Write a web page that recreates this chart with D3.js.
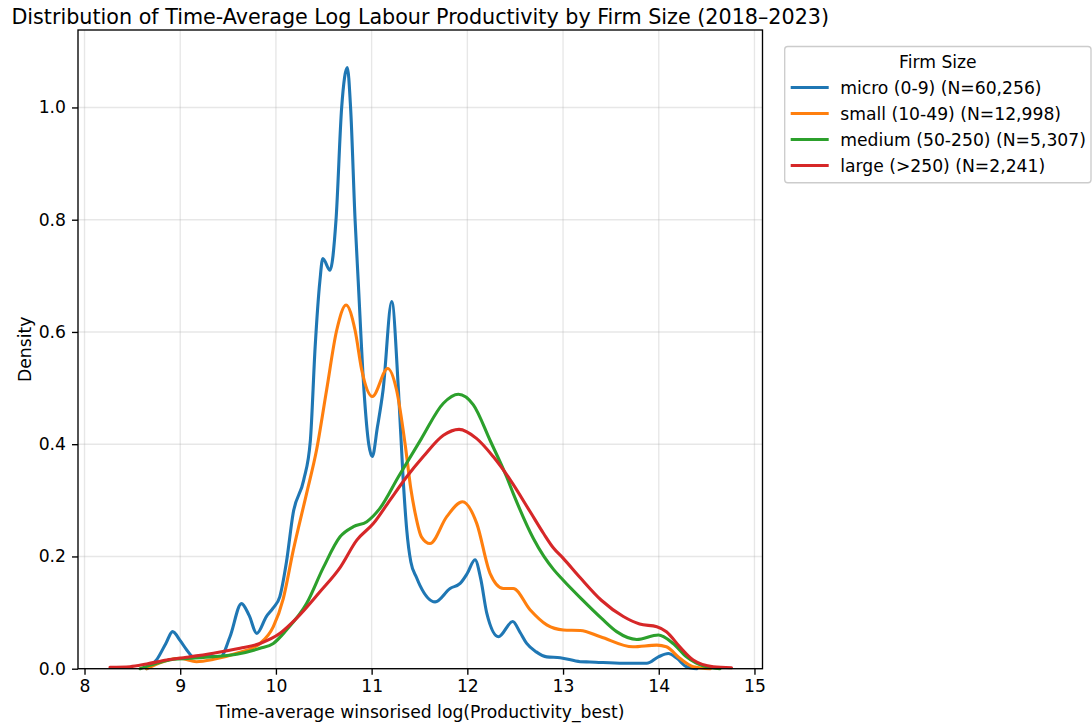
<!DOCTYPE html>
<html>
<head>
<meta charset="utf-8">
<script src="https://cdn.jsdelivr.net/npm/d3@7"></script>
<style>
  html, body { margin: 0; padding: 0; background: #ffffff; }
  svg { display: block; font-family: "DejaVu Sans", sans-serif; }
</style>
</head>
<body>
<svg id="chart" width="1092" height="724"></svg>
<script>
// Kernel density estimates of time-average log labour productivity, by firm size.
// Each series: [log productivity, density].
const micro = [
  [8.65, 0.0], [8.75, 0.015], [8.85, 0.045], [8.92, 0.066], [9.0, 0.05], [9.07, 0.033],
  [9.14, 0.021], [9.26, 0.023], [9.42, 0.021], [9.52, 0.057], [9.64, 0.116], [9.72, 0.095],
  [9.80, 0.063], [9.90, 0.093], [9.97, 0.108], [10.04, 0.128], [10.11, 0.19], [10.18, 0.277],
  [10.29, 0.336], [10.36, 0.407], [10.41, 0.574], [10.46, 0.692], [10.49, 0.731], [10.565, 0.710],
  [10.628, 0.80], [10.687, 1.0], [10.746, 1.071], [10.78, 1.0], [10.827, 0.80], [10.86, 0.69],
  [10.92, 0.496], [10.97, 0.40], [11.007, 0.378], [11.06, 0.43], [11.12, 0.497], [11.21, 0.654],
  [11.28, 0.497], [11.33, 0.336], [11.367, 0.247], [11.41, 0.19], [11.47, 0.162], [11.506, 0.148],
  [11.663, 0.119], [11.82, 0.143], [11.925, 0.152], [12.0, 0.17], [12.08, 0.194], [12.14, 0.16],
  [12.203, 0.099], [12.325, 0.057], [12.474, 0.084], [12.55, 0.065], [12.62, 0.045], [12.72, 0.03],
  [12.83, 0.021], [12.97, 0.0196], [13.18, 0.0125], [13.28, 0.012], [13.63, 0.0096], [13.875, 0.0096],
  [13.996, 0.021], [14.10, 0.027], [14.19, 0.0185], [14.29, 0.0036], [14.40, 0.0]
];
const small = [
  [8.65, 0.0], [8.82, 0.0125], [9.0, 0.0185], [9.17, 0.0125], [9.35, 0.0167], [9.59, 0.0274],
  [9.834, 0.045], [9.973, 0.075], [10.077, 0.125], [10.18, 0.21], [10.32, 0.312], [10.425, 0.39],
  [10.53, 0.497], [10.635, 0.603], [10.733, 0.648], [10.827, 0.603], [10.897, 0.532], [11.007, 0.485],
  [11.168, 0.535], [11.26, 0.497], [11.35, 0.40], [11.41, 0.32], [11.455, 0.277], [11.52, 0.235],
  [11.61, 0.223], [11.785, 0.271], [11.95, 0.2975], [12.098, 0.259], [12.237, 0.17], [12.376, 0.143],
  [12.48, 0.143], [12.655, 0.105], [12.83, 0.078], [13.003, 0.069], [13.18, 0.068], [13.39, 0.057],
  [13.73, 0.039], [13.98, 0.042], [14.08, 0.039], [14.22, 0.0185], [14.36, 0.0036], [14.54, 0.0]
];
const medium = [
  [8.58, 0.0], [8.754, 0.0096], [8.93, 0.0167], [9.10, 0.0185], [9.346, 0.0214], [9.59, 0.0257],
  [9.834, 0.0363], [9.973, 0.045], [10.11, 0.069], [10.32, 0.116], [10.495, 0.18], [10.67, 0.235],
  [10.81, 0.253], [10.95, 0.262], [11.088, 0.286], [11.28, 0.342], [11.52, 0.41], [11.75, 0.473],
  [11.906, 0.489], [12.063, 0.47], [12.237, 0.407], [12.41, 0.342], [12.48, 0.312], [12.69, 0.232],
  [12.8, 0.2], [12.9, 0.177], [13.0, 0.158], [13.2, 0.123], [13.4, 0.09], [13.56, 0.066],
  [13.77, 0.052], [13.996, 0.060], [14.15, 0.045], [14.29, 0.0214], [14.47, 0.0048], [14.64, 0.0]
];
const large = [
  [8.266, 0.0025], [8.475, 0.0036], [8.65, 0.0084], [8.86, 0.0155], [9.068, 0.0203], [9.346, 0.0274],
  [9.625, 0.0363], [9.834, 0.045], [10.043, 0.063], [10.217, 0.09], [10.46, 0.137], [10.67, 0.18],
  [10.845, 0.229], [11.02, 0.259], [11.19, 0.30], [11.367, 0.342], [11.54, 0.378], [11.75, 0.416],
  [11.913, 0.4265], [12.098, 0.41], [12.27, 0.378], [12.45, 0.336], [12.655, 0.28], [12.8, 0.24],
  [12.9, 0.215], [13.0, 0.197], [13.18, 0.162], [13.4, 0.122], [13.63, 0.093], [13.80, 0.0796],
  [13.98, 0.0748], [14.08, 0.066], [14.22, 0.039], [14.36, 0.0155], [14.57, 0.0036], [14.76, 0.0018]
];

const seriesNames = [
  "micro (0-9) (N=60,256)",
  "small (10-49) (N=12,998)",
  "medium (50-250) (N=5,307)",
  "large (>250) (N=2,241)"
];
const seriesValues = [micro, small, medium, large];
const seriesColors = ["#1f77b4", "#ff7f0e", "#2ca02c", "#d62728"];

const xTicks = [8, 9, 10, 11, 12, 13, 14, 15];
const yTicks = [0.0, 0.2, 0.4, 0.6, 0.8, 1.0];

const titleText = "Distribution of Time-Average Log Labour Productivity by Firm Size (2018\u20132023)";
const xLabel = "Time-average winsorised log(Productivity_best)";
const yLabel = "Density";
const legendTitle = "Firm Size";

// Plot area and type sizes
const plotLeft = 78, plotRight = 762.5, plotTop = 30, plotBottom = 668.7;
const fontSize = 17.2, titleSize = 20.7;
const strokeThin = 1.35, curveWidth = 3.1;

const svg = d3.select("#chart");

const x = d3.scaleLinear().domain([7.932, 15.084]).range([plotLeft, plotRight]);
const y = d3.scaleLinear().domain([0, 1.138]).range([plotBottom, plotTop]);

// Grid
const grid = svg.append("g").attr("class", "grid");
grid.selectAll("line.gx").data(xTicks).join("line").attr("class", "gx")
  .attr("x1", d => x(d)).attr("x2", d => x(d))
  .attr("y1", plotTop).attr("y2", plotBottom)
  .attr("stroke", "#b0b0b0").attr("stroke-opacity", 0.3).attr("stroke-width", strokeThin);
grid.selectAll("line.gy").data(yTicks).join("line").attr("class", "gy")
  .attr("x1", plotLeft).attr("x2", plotRight)
  .attr("y1", d => y(d)).attr("y2", d => y(d))
  .attr("stroke", "#b0b0b0").attr("stroke-opacity", 0.3).attr("stroke-width", strokeThin);

// Density curves
const line = d3.line()
  .x(d => x(d[0]))
  .y(d => y(d[1]))
  .curve(d3.curveMonotoneX);

svg.append("g").selectAll("path").data(seriesValues).join("path")
  .attr("d", line)
  .attr("fill", "none")
  .attr("stroke", (d, i) => seriesColors[i])
  .attr("stroke-width", curveWidth)
  .attr("stroke-linejoin", "round")
  .attr("stroke-linecap", "round");

// Axes
const xAxis = d3.axisBottom(x).tickValues(xTicks).tickFormat(d3.format("d"))
  .tickSizeInner(6).tickSizeOuter(0).tickPadding(5);
const yAxis = d3.axisLeft(y).tickValues(yTicks).tickFormat(d3.format(".1f"))
  .tickSizeInner(6).tickSizeOuter(0).tickPadding(6);

const gx = svg.append("g").attr("transform", `translate(0,${plotBottom})`).call(xAxis);
const gy = svg.append("g").attr("transform", `translate(${plotLeft},0)`).call(yAxis);
[gx, gy].forEach(g => {
  g.select(".domain").remove();
  g.selectAll(".tick line").attr("stroke", "#000").attr("stroke-width", strokeThin);
  g.selectAll(".tick text").attr("fill", "#000")
    .style("font-family", "DejaVu Sans").style("font-size", fontSize + "px");
});

// Frame
svg.append("rect")
  .attr("x", plotLeft).attr("y", plotTop)
  .attr("width", plotRight - plotLeft).attr("height", plotBottom - plotTop)
  .attr("fill", "none").attr("stroke", "#000").attr("stroke-width", strokeThin);

// Title and axis labels
svg.append("text")
  .attr("x", (plotLeft + plotRight) / 2).attr("y", 24)
  .attr("text-anchor", "middle")
  .style("font-size", titleSize + "px").attr("fill", "#000")
  .text(titleText);

svg.append("text")
  .attr("x", (plotLeft + plotRight) / 2).attr("y", 718)
  .attr("text-anchor", "middle")
  .style("font-size", fontSize + "px").attr("fill", "#000")
  .text(xLabel);

svg.append("text")
  .attr("transform", `translate(31,${(plotTop + plotBottom) / 2}) rotate(-90)`)
  .attr("text-anchor", "middle")
  .style("font-size", fontSize + "px").attr("fill", "#000")
  .text(yLabel);

// Legend
const legend = svg.append("g").attr("class", "legend");
const legX = 784.7, legY = 46.5;
const legBox = legend.append("rect")
  .attr("x", legX).attr("y", legY).attr("rx", 3).attr("ry", 3)
  .attr("fill", "#fff").attr("fill-opacity", 0.8)
  .attr("stroke", "#cccccc").attr("stroke-width", strokeThin);

const rowY = i => 87.5 + i * 26;
const items = legend.selectAll("g.item").data(seriesNames).join("g").attr("class", "item");
items.append("line")
  .attr("x1", legX + 6).attr("x2", legX + 44)
  .attr("y1", (d, i) => rowY(i)).attr("y2", (d, i) => rowY(i))
  .attr("stroke", (d, i) => seriesColors[i]).attr("stroke-width", curveWidth);
const labels = items.append("text")
  .attr("x", legX + 55.5).attr("y", (d, i) => rowY(i) + 6)
  .style("font-size", fontSize + "px").attr("fill", "#000")
  .text(d => d);

let maxRight = 0;
labels.each(function () { const b = this.getBBox(); maxRight = Math.max(maxRight, b.x + b.width); });
const legW = Math.min(maxRight + 6, 1091) - legX;
legBox.attr("width", legW).attr("height", 182.7 - legY);

legend.append("text")
  .attr("x", legX + legW / 2).attr("y", 67.5)
  .attr("text-anchor", "middle")
  .style("font-size", fontSize + "px").attr("fill", "#000")
  .text(legendTitle);
</script>
</body>
</html>
